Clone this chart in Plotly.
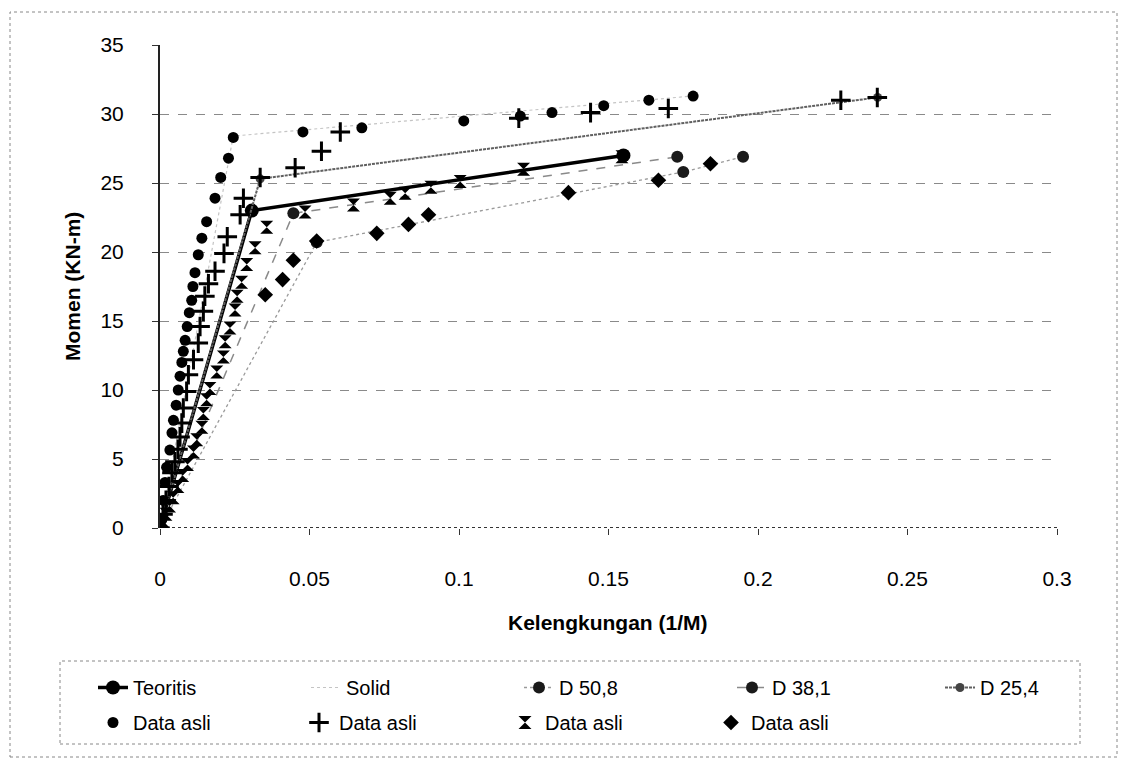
import plotly.graph_objects as go

# ---------------- data ----------------
teo_x = [0, 0.0307, 0.155]
teo_y = [0, 23.0, 27.0]

solid_x = [0, 0.0245, 0.178]
solid_y = [0, 28.4, 31.3]

d508_x = [0, 0.0524, 0.175, 0.195]
d508_y = [0, 20.7, 25.8, 26.9]

d381_x = [0, 0.0446, 0.173]
d381_y = [0, 22.8, 26.9]

d254_x = [0, 0.0335, 0.240]
d254_y = [0, 25.3, 31.2]

circ_x = [0, 0.0006, 0.0011, 0.0017, 0.0022, 0.0033, 0.0040, 0.0045, 0.0054, 0.0061,
          0.0067, 0.0073, 0.0078, 0.0084, 0.0091, 0.0098, 0.0106, 0.0110, 0.0117, 0.0128,
          0.0140, 0.0156, 0.0184, 0.0203, 0.0229, 0.0245, 0.0478, 0.0675, 0.1016, 0.1205,
          0.1311, 0.1484, 0.1635, 0.1783]
circ_y = [0, 0.6, 2.0, 3.3, 4.4, 5.65, 6.9, 7.8, 8.9, 10.0,
          11.0, 12.0, 12.8, 13.6, 14.6, 15.6, 16.5, 17.5, 18.5, 19.8,
          21.0, 22.2, 23.9, 25.4, 26.8, 28.3, 28.7, 29.0, 29.5, 29.85,
          30.1, 30.6, 31.0, 31.3]

plus_x = [0, 0.0010, 0.0020, 0.0030, 0.0040, 0.0050, 0.0060, 0.0067, 0.0073, 0.0078,
          0.0089, 0.0095, 0.0112, 0.0128, 0.0134, 0.0145, 0.0150, 0.0162, 0.0184, 0.0214,
          0.0225, 0.0268, 0.0279, 0.0335, 0.0452, 0.0540, 0.0603, 0.1200, 0.1440, 0.1700,
          0.2277, 0.2399]
plus_y = [0, 1.0, 2.0, 3.0, 4.0, 4.8, 5.7, 6.6, 7.6, 8.7,
          9.9, 11.1, 12.2, 13.4, 14.6, 15.7, 16.8, 17.7, 18.6, 19.9,
          21.1, 22.7, 23.9, 25.4, 26.1, 27.3, 28.7, 29.7, 30.1, 30.4,
          31.0, 31.2]

hg_x = [0, 0.0010, 0.0020, 0.0032, 0.0044, 0.0060, 0.0076, 0.0092, 0.0112, 0.0123,
        0.0140, 0.0145, 0.0156, 0.0167, 0.0190, 0.0212, 0.0218, 0.0234, 0.0251, 0.0258,
        0.0273, 0.0290, 0.0318, 0.0357, 0.0485, 0.0647, 0.0770, 0.0820, 0.0906, 0.1004,
        0.1216, 0.1545]
hg_y = [0, 0.5, 1.0, 1.6, 2.2, 3.0, 3.8, 4.6, 5.5, 6.4,
        7.3, 8.3, 9.3, 10.1, 11.3, 12.4, 13.5, 14.5, 15.8, 16.8,
        17.8, 19.1, 20.3, 21.8, 22.9, 23.4, 23.9, 24.25, 24.7, 25.1,
        26.0, 26.9]

dia_x = [0, 0.0352, 0.0410, 0.0446, 0.0524, 0.0725, 0.0831, 0.0898, 0.1366, 0.1667, 0.1841]
dia_y = [0, 16.9, 18.0, 19.4, 20.8, 21.35, 22.0, 22.7, 24.3, 25.2, 26.4]

x_ticks = [0, 0.05, 0.1, 0.15, 0.2, 0.25, 0.3]
x_ticklabels = ["0", "0.05", "0.1", "0.15", "0.2", "0.25", "0.3"]
y_ticks = [0, 5, 10, 15, 20, 25, 30, 35]

# ---------------- figure ----------------
W, H = 1123, 764
L, R, T, B = 160, 1057, 45, 528  # plot area pixels
pw, ph = R - L, B - T


def px2paper_x(px):
    return (px - L) / pw


def px2paper_y(py):
    return (B - py) / ph


FONT = "Liberation Sans, Arial, sans-serif"

fig = go.Figure()

# row 1 of legend: model curves
fig.add_trace(go.Scatter(x=teo_x, y=teo_y, name="Teoritis", mode="lines+markers",
                         line=dict(color="black", width=3.5),
                         marker=dict(symbol="circle", size=14, color="black"),
                         legend="legend"))
fig.add_trace(go.Scatter(x=solid_x, y=solid_y, name="Solid", mode="lines",
                         line=dict(color="#c4c4c4", width=1.2, dash="dot"),
                         legend="legend"))
fig.add_trace(go.Scatter(x=d508_x, y=d508_y, name="D 50,8", mode="lines+markers",
                         line=dict(color="#9a9a9a", width=1.3, dash="dot"),
                         marker=dict(symbol="circle", size=12, color="#1a1a1a"),
                         legend="legend"))
fig.add_trace(go.Scatter(x=d381_x, y=d381_y, name="D 38,1", mode="lines+markers",
                         line=dict(color="#8a8a8a", width=1.5, dash="dash"),
                         marker=dict(symbol="circle", size=12, color="#1a1a1a"),
                         legend="legend"))
fig.add_trace(go.Scatter(x=d254_x, y=d254_y, name="D 25,4", mode="lines+markers",
                         line=dict(color="#606060", width=2, dash="3px,1px"),
                         marker=dict(symbol="circle", size=9, color="#444444"),
                         legend="legend3"))

# row 2 of legend: measured data
fig.add_trace(go.Scatter(x=circ_x, y=circ_y, name="Data asli", mode="markers",
                         marker=dict(symbol="circle", size=11, color="black"),
                         legend="legend2"))
fig.add_trace(go.Scatter(x=plus_x, y=plus_y, name="Data asli", mode="markers",
                         marker=dict(symbol="cross-thin-open", size=14, color="black",
                                     line=dict(color="black", width=3)),
                         legend="legend2"))
fig.add_trace(go.Scatter(x=hg_x, y=hg_y, name="Data asli", mode="markers",
                         marker=dict(symbol="hourglass", size=13, color="black"),
                         legend="legend2"))
fig.add_trace(go.Scatter(x=dia_x, y=dia_y, name="Data asli", mode="markers",
                         marker=dict(symbol="diamond", size=12, color="black"),
                         legend="legend2"))

shapes = [
    # outer chart border
    dict(type="rect", xref="paper", yref="paper",
         x0=px2paper_x(10), x1=px2paper_x(1117), y0=px2paper_y(757), y1=px2paper_y(12),
         line=dict(color="#888888", width=1, dash="dot"), fillcolor="rgba(0,0,0,0)", layer="below"),
    # legend box
    dict(type="rect", xref="paper", yref="paper",
         x0=px2paper_x(60), x1=px2paper_x(1080), y0=px2paper_y(744), y1=px2paper_y(661),
         line=dict(color="#888888", width=1, dash="dot"), fillcolor="rgba(0,0,0,0)", layer="below"),
    # x axis line (dotted in the reference)
    dict(type="line", xref="paper", yref="y", x0=0, x1=1, y0=0, y1=0,
         line=dict(color="#333333", width=2, dash="dot"), layer="below"),
]

annotations = [
    dict(text="<b>Kelengkungan (1/M)</b>", xref="paper", yref="paper",
         x=px2paper_x(608), y=px2paper_y(622), xanchor="center", yanchor="middle",
         showarrow=False, font=dict(family=FONT, size=21, color="black")),
    dict(text="<b>Momen (KN-m)</b>", xref="paper", yref="paper",
         x=px2paper_x(72), y=px2paper_y(287), xanchor="center", yanchor="middle",
         textangle=-90, showarrow=False, font=dict(family=FONT, size=21, color="black")),
]

legend_common = dict(orientation="h", xanchor="left", yanchor="top",
                     borderwidth=0, bgcolor="rgba(0,0,0,0)",
                     entrywidthmode="pixels",
                     font=dict(family=FONT, size=20, color="black"),
                     itemsizing="trace", traceorder="normal")

fig.update_layout(
    width=W, height=H,
    margin=dict(l=L, r=W - R, t=T, b=H - B),
    paper_bgcolor="white", plot_bgcolor="white",
    font=dict(family=FONT, size=20, color="black"),
    showlegend=True,
    legend=dict(legend_common, x=px2paper_x(93), y=px2paper_y(668), entrywidth=168),
    legend3=dict(legend_common, x=px2paper_x(940), y=px2paper_y(668), entrywidth=80),
    legend2=dict(legend_common, x=px2paper_x(93), y=px2paper_y(703), entrywidth=161),
    shapes=shapes,
    annotations=annotations,
)

fig.update_xaxes(range=[0, 0.3], tickvals=x_ticks, ticktext=x_ticklabels,
                 showgrid=False, zeroline=False, showline=False,
                 ticks="outside", ticklen=6, tickcolor="#333", tickwidth=1,
                 ticklabelstandoff=26,
                 tickfont=dict(family=FONT, size=21, color="black"))
fig.update_yaxes(range=[0, 35], tickvals=y_ticks,
                 showgrid=True, gridcolor="#8a8a8a", gridwidth=1, griddash="dash",
                 zeroline=False, showline=True, linecolor="#222", linewidth=2,
                 ticks="outside", ticklen=6, tickcolor="#333", tickwidth=1,
                 ticklabelstandoff=24,
                 tickfont=dict(family=FONT, size=21, color="black"))

fig.write_html("out.html")
